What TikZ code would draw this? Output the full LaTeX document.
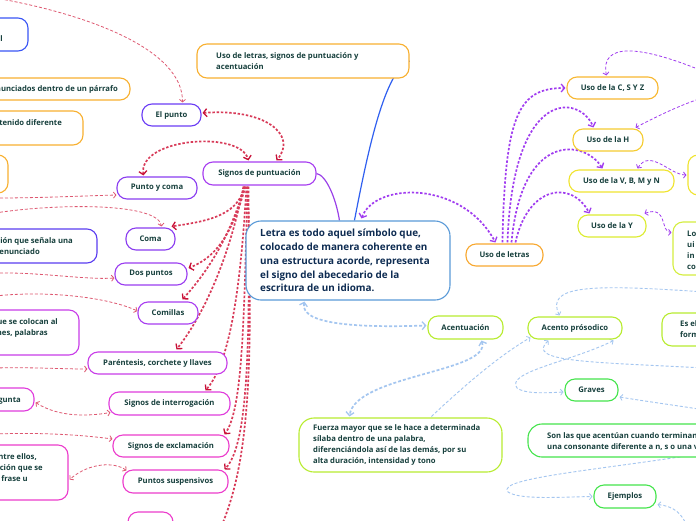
\documentclass[tikz,border=0pt]{standalone}
\usepackage{fontspec}
\setmainfont{Open Sans}
\usetikzlibrary{arrows.meta,backgrounds,calc}
\definecolor{txt}{HTML}{17403D}
\definecolor{ctxt}{HTML}{0E2C52}
\definecolor{cblue}{HTML}{3A55F5}
\definecolor{cviolet}{HTML}{5A3CF0}
\definecolor{cep}{HTML}{6A3CF5}
\definecolor{csp}{HTML}{A63CF0}
\definecolor{cpyc}{HTML}{8A3CF0}
\definecolor{cdp}{HTML}{9A3CF0}
\definecolor{ccom}{HTML}{A83CF0}
\definecolor{cmagA}{HTML}{C83CE8}
\definecolor{cmagB}{HTML}{E03CDC}
\definecolor{cmagC}{HTML}{EC3CCC}
\definecolor{corange}{HTML}{F8B030}
\definecolor{cul}{HTML}{F8A830}
\definecolor{ccsz}{HTML}{F8B830}
\definecolor{ch}{HTML}{F5CC30}
\definecolor{cvb}{HTML}{F0E430}
\definecolor{cy}{HTML}{DCEC30}
\definecolor{clo}{HTML}{D4EE40}
\definecolor{clime}{HTML}{B8EC30}
\definecolor{cgreen}{HTML}{44E44C}
\definecolor{cct}{HTML}{5A9AD8}
\definecolor{cred}{HTML}{D83A58}
\definecolor{credarr}{HTML}{C81038}
\definecolor{cpur}{HTML}{A03CF0}
\definecolor{clb}{HTML}{A4C6F0}
\definecolor{csolb}{HTML}{3060F0}
\definecolor{csolp}{HTML}{9A40E8}
\newcommand\lbl{\bfseries\fontsize{7.7}{11}\selectfont}
\newcommand\ctf{\bfseries\fontsize{9.9}{13.8}\selectfont}
\newcommand\bx[7]{\node[mbox,draw=#6,minimum width={(#4)-(#2)},minimum height={(#5)-(#3)}] (#1) at ({((#2)+(#4))/2},{((#3)+(#5))/2}) {#7};}
\begin{document}
\begin{tikzpicture}[x=1pt,y=-1pt,
  mbox/.style={rectangle,rounded corners=10pt,line width=1.1pt,fill=white,inner sep=0pt,font=\lbl,text=txt,align=center},
  lbltext/.style={inner sep=0pt,font=\lbl,text=txt,align=left},
  rt/.style={draw=cred,line width=1.7pt,dash pattern=on 2.4pt off 1.8pt},
  rn/.style={draw=cred!85,line width=0.8pt,dash pattern=on 3pt off 2pt},
  pt/.style={draw=cpur,line width=1.7pt,dash pattern=on 2.4pt off 1.8pt},
  pn/.style={draw=cpur,line width=0.8pt,dash pattern=on 3pt off 2pt},
  bt/.style={draw=clb,line width=1.7pt,dash pattern=on 3pt off 2pt},
  bn/.style={draw=clb,line width=0.9pt,dash pattern=on 3pt off 2pt},
  rtip/.style={-{Straight Barb[length=3.5pt,width=8pt,color=credarr,line width=1.3pt]}},
  rtip2/.style={{Straight Barb[length=3.5pt,width=8pt,color=credarr,line width=1.3pt]}-{Straight Barb[length=3.5pt,width=8pt,color=credarr,line width=1.3pt]}},
  rntip/.style={-{Straight Barb[length=2.5pt,width=6pt,line width=0.8pt]}},
  rntip2/.style={{Straight Barb[length=2.5pt,width=6pt,line width=0.8pt]}-{Straight Barb[length=2.5pt,width=6pt,line width=0.8pt]}},
  ptip/.style={-{Straight Barb[length=3.5pt,width=8pt,line width=1.3pt]}},
  ptip2/.style={{Straight Barb[length=3.5pt,width=8pt,line width=1.3pt]}-{Straight Barb[length=3.5pt,width=8pt,line width=1.3pt]}},
  ntip/.style={-{Straight Barb[length=2.5pt,width=6pt,line width=0.8pt]}},
  ntip0/.style={{Straight Barb[length=2.5pt,width=6pt,line width=0.8pt]}-},
  ntip2/.style={{Straight Barb[length=2.5pt,width=6pt,line width=0.8pt]}-{Straight Barb[length=2.5pt,width=6pt,line width=0.8pt]}},
  solid1/.style={line width=1.2pt}
]
\useasboundingbox (0,0) rectangle (696,520);
\clip (0,0) rectangle (696,520);

% ---------- left partial boxes ----------
\bx{l1}{-60}{18}{28}{51}{cblue}{}
\node[lbltext,anchor=east] (l1t) at (3,39) {final};
\bx{l2}{-150}{78}{130}{100}{corange}{}
\node[lbltext,anchor=east] (l2t) at (118,89) {Separa enunciados dentro de un párrafo};
\bx{l3}{-150}{111}{83}{145}{corange}{}
\node[lbltext,anchor=east] (l3t) at (62,123) {Separa párrafos de contenido diferente};
\bx{l4}{-150}{155}{8}{193}{corange}{}
\bx{l5}{-150}{229}{97}{263}{cviolet}{}
\node[lbltext,anchor=east] (l5a) at (73,241) {Es un signo de puntuación que señala una};
\node[lbltext,anchor=east] (l5b) at (40,252) {pausa al final de un enunciado};
\bx{l6}{-150}{310}{79}{355}{cmagA}{}
\node[lbltext,anchor=east] (l6a) at (58,322) {Son signos de puntuación que se colocan al};
\node[lbltext,anchor=east] (l6b) at (48,333) {inicio y final de oraciones, palabras};
\bx{l7}{-60}{388}{34}{411}{cmagB}{}
\node[lbltext,anchor=east] (l7t) at (21,400) {Encierran una pregunta};
\bx{l8}{-150}{445}{68}{500}{cmagC}{}
\node[lbltext,anchor=east] (l8a) at (37,457) {Son tres puntos seguidos, sin espacio entre ellos,};
\node[lbltext,anchor=east] (l8b) at (43,468) {que indican una interrupción o continuación que se};
\node[lbltext,anchor=east] (l8c) at (28,479) {deja en suspenso una frase u};
\bx{b1}{128}{512}{173}{540}{cmagC}{}

% ---------- signos de puntuacion ----------
\bx{ep}{142}{104}{201}{126}{cep}{El punto}
\bx{sp}{203}{162}{316}{185}{csp}{Signos de puntuación}
\bx{pyc}{117}{177}{197}{199}{cpyc}{Punto y coma}
\bx{coma}{126}{228}{175}{250}{cpyc}{Coma}
\bx{dp}{115}{263}{187}{285}{cdp}{Dos puntos}
\bx{com}{138}{302}{198}{324}{ccom}{Comillas}
\bx{par}{88}{352}{227}{374}{cmagA}{Paréntesis, corchete y llaves}
\bx{int}{109}{392}{230}{415}{cmagB}{Signos de interrogación}
\bx{exc}{113}{435}{229}{457}{cmagC}{Signos de exclamación}
\bx{sus}{123}{470}{228}{493}{cmagC}{Puntos suspensivos}

% ---------- top and centre ----------
\bx{usl}{197}{44}{409}{78}{corange}{}
\node[lbltext,anchor=west] (uslt) at (216,61.5) {Uso de letras, signos de puntuación y\\acentuación};
\node[mbox,rounded corners=15pt,draw=cct,minimum width=204,minimum height=79] (ct) at (348,260.5) {};
\node[inner sep=0pt,font=\ctf,text=ctxt,align=left,anchor=west] (ctt) at (260,260.5) {Letra es todo aquel símbolo que,\\colocado de manera coherente en\\una estructura acorde, representa\\el signo del abecedario de la\\escritura de un idioma.};

% ---------- uso de letras ----------
\bx{ul}{466}{244}{543}{266}{cul}{Uso de letras}
\bx{csz}{567}{77}{658}{99}{ccsz}{Uso de la C, S Y Z}
\bx{h}{573}{129}{643}{151}{ch}{Uso de la H}
\bx{vbmn}{569}{170}{674}{192}{cvb}{Uso de la V, B, M y N}
\bx{y}{578}{215}{646}{237}{cy}{Uso de la Y}
\bx{r1}{688}{155}{780}{195}{cvb}{}
\bx{r2}{673}{222}{780}{275}{clo}{}
\node[lbltext,anchor=west] (r2t) at (687,250) {Lo\\ui\\in\\co};

% ---------- acentuacion ----------
\bx{ac}{428}{316}{503}{339}{clime}{Acentuación}
\bx{ap}{528}{317}{622}{339}{clime}{Acento prósodico}
\bx{esel}{662}{313}{780}{346}{clime}{}
\node[lbltext,anchor=west] (eselt) at (680,329.5) {Es el acento que\\forma parte};
\node[mbox,rounded corners=15pt,draw=clime,minimum width=203,minimum height=54] (fz) at (400.5,445) {};
\node[lbltext,anchor=west] (fzt) at (313,445) {Fuerza mayor que se le hace a determinada\\sílaba dentro de una palabra,\\diferenciándola así de las demás, por su\\alta duración, intensidad y tono};
\bx{gr}{565}{379}{618}{401}{cgreen}{Graves}
\node[mbox,rounded corners=14pt,draw=cgreen,minimum width=252,minimum height=33] (son) at (654,440.5) {};
\node[lbltext,anchor=west] (sont) at (547,441.5) {Son las que acentúan cuando terminan en\\una consonante diferente a n, s o una vocal};
\bx{ej}{594}{485}{656}{508}{cgreen}{Ejemplos}

% ---------- off-page ends ----------
\coordinate (o1) at (-10,-3);
\coordinate (o2) at (-5,198);
\coordinate (o3) at (-5,213);
\coordinate (o4) at (-5,273);
\coordinate (o5) at (-5,296);
\coordinate (o6) at (-5,368);
\coordinate (o8) at (-5,434);
\coordinate (ob1) at (215,540);
\coordinate (o9) at (705,72);
\coordinate (o10) at (705,97);
\coordinate (o11) at (705,292);
\coordinate (o12) at (705,368);
\coordinate (o13) at (705,410);
\coordinate (o14) at (705,453);
\coordinate (o15) at (688,530);

\begin{pgfonlayer}{background}
\clip (0,0) rectangle (696,520);
\fill[white] (0,0) rectangle (696,520);
% solid connectors
\draw[csolp,solid1] (sp.east) .. controls (326,175) and (336,198) .. ($(ct.north west)+(94,0)$);
\draw[csolb,solid1] (usl.east) .. controls (385,70) and (368,150) .. ($(ct.north west)+(109,0)$);
% red thick
\draw[rt,rtip2] ($(ep.east)+(1,-2)$) .. controls (265,108) and (298,135) .. ($(sp.north west)+(74,-1)$);
\draw[rt,rtip2] ($(pyc.north west)+(27,-1)$) .. controls (138,138) and (240,130) .. ($(sp.north west)+(46,-1)$);
\draw[rt,rtip] ($(sp.south west)+(42,1)$) .. controls (238,218) and (200,222) .. ($(coma.north east)+(-4,-1)$);
\draw[rt,rtip] ($(sp.south west)+(43,1)$) .. controls (232,235) and (215,258) .. ($(dp.east)+(1,-6)$);
\draw[rt,rtip] ($(sp.south west)+(42,1)$) .. controls (228,245) and (200,280) .. ($(com.north west)+(45,-2)$);
\draw[rt,rtip] ($(sp.south west)+(41,1)$) .. controls (228,265) and (200,320) .. ($(par.north west)+(89,-2)$);
\draw[rt,rtip] ($(sp.south west)+(44,1)$) .. controls (240,300) and (228,365) .. ($(int.north west)+(97,-1)$);
\draw[rt,rtip] ($(sp.south west)+(45,1)$) .. controls (244,330) and (242,410) .. ($(exc.north east)+(-5,0)$);
\draw[rt,rtip] ($(sp.south west)+(46,1)$) .. controls (250,350) and (248,445) .. ($(sus.north east)+(-4,0)$);
\draw[rt] ($(sp.south west)+(45,1)$) .. controls (255,400) and (245,480) .. (ob1);
% red thin
\draw[rn,rntip] (o1) .. controls (90,14) and (183,50) .. ($(ep.north west)+(41,-1)$);
\draw[rn,rntip] (o2) .. controls (40,198) and (80,196) .. ($(pyc.west)+(0,7)$);
\draw[rn,rntip] (o3) .. controls (60,203) and (158,203) .. ($(coma.north west)+(36,-1)$);
\draw[rn,rntip] (o4) .. controls (40,272) and (85,280) .. ($(dp.west)+(0,4)$);
\draw[rn,rntip] (o5) .. controls (50,290) and (110,298) .. ($(com.west)+(0,-2)$);
\draw[rn,rntip] (o6) .. controls (30,367) and (60,369) .. ($(par.west)+(0,6)$);
\draw[rn,rntip2] ($(l7.east)+(1,3)$) .. controls (60,418) and (90,416) .. ($(int.west)+(2,9)$);
\draw[rn,rntip] (o8) .. controls (50,432) and (90,436) .. ($(exc.west)+(0,-7)$);
\draw[rn,rntip2] ($(sus.north west)+(4,1)$) .. controls (115,462) and (90,462) .. ($(l8.east)+(1,7)$);
% purple thick
\draw[pt,ptip2] ($(ct.north west)+(116,-2)$) .. controls (375,182) and (462,180) .. ($(ul.north west)+(30,-1)$);
\draw[pt,ptip] ($(ul.north west)+(37,-1)$) .. controls (505,115) and (518,88) .. ($(csz.west)+(-1,0)$);
\draw[pt,ptip] ($(ul.north west)+(42,-1)$) .. controls (513,85) and (580,95) .. ($(h.north west)+(21,-1)$);
\draw[pt,ptip] ($(ul.north west)+(46,-1)$) .. controls (522,130) and (585,140) .. ($(vbmn.north west)+(34,-1)$);
\draw[pt,ptip] ($(ul.north west)+(50,-1)$) .. controls (528,185) and (572,180) .. ($(y.north west)+(12,-1)$);
% purple thin
\draw[pn,ntip0] ($(csz.north west)+(40,-1)$) .. controls (600,42) and (640,45) .. (o9);
\draw[pn,ntip0] ($(h.north east)+(-8,-1)$) .. controls (660,115) and (680,105) .. (o10);
\draw[pn,ntip2] ($(vbmn.north east)+(-37,-1)$) .. controls (650,148) and (670,175) .. ($(r1.west)+(-1,0)$);
\draw[pn,ntip2] ($(y.north east)+(-2,-1)$) .. controls (668,205) and (660,232) .. ($(r2.west)+(-1,-16)$);
% blue thick
\draw[bt,ptip2] ($(ct.south west)+(59,1)$) .. controls (298,328) and (380,327) .. ($(ac.west)+(-1,-2)$);
\draw[bt,ptip2] ($(ac.south west)+(54,1)$) .. controls (492,372) and (355,375) .. ($(fz.north west)+(51,-1)$);
% blue thin
\draw[bn,ntip] ($(fz.north west)+(133,-1)$) .. controls (465,385) and (500,355) .. ($(ap.south west)+(3,-2)$);
\draw[bn,ntip0] ($(ap.north west)+(32,-1)$) .. controls (545,285) and (590,284) .. (o11);
\draw[bn,ntip0] ($(ap.south west)+(21,1)$) .. controls (525,362) and (590,362) .. (o12);
\draw[bn,ntip2] ($(ap.south east)+(-9,1)$) .. controls (570,362) and (505,372) .. (517,388) .. controls (525,394) and (545,393) .. ($(gr.west)+(-1,2)$);
\draw[bn,ntip0] ($(gr.east)+(1,7)$) .. controls (650,402) and (680,406) .. (o13);
\draw[bn,ntip] (o14) .. controls (600,470) and (495,478) .. (508,492) .. controls (520,500) and (560,497) .. ($(ej.west)+(-1,0)$);
\draw[bn,ntip0] ($(ej.east)+(1,8)$) .. controls (672,506) and (683,512) .. (o15);
\end{pgfonlayer}
\end{tikzpicture}
\end{document}
